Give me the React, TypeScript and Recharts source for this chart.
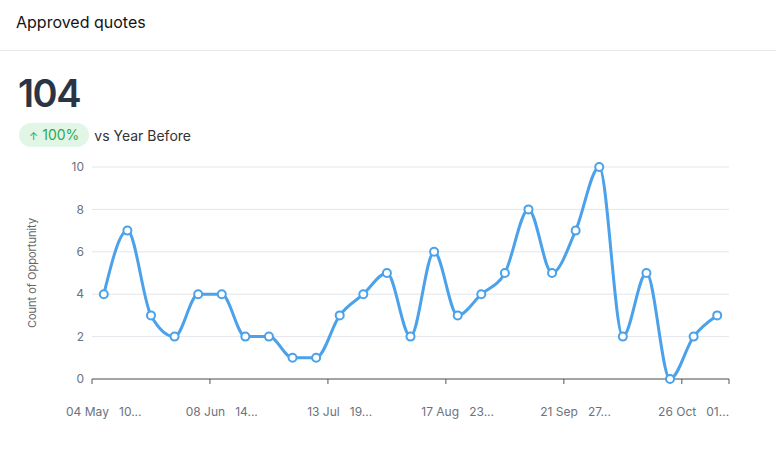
import { LineChart, Line, XAxis, YAxis, CartesianGrid } from 'recharts';

const weekStarts = [
  '04 May', '11 May', '18 May', '25 May', '01 Jun', '08 Jun', '15 Jun', '22 Jun', '29 Jun',
  '06 Jul', '13 Jul', '20 Jul', '27 Jul', '03 Aug', '10 Aug', '17 Aug', '24 Aug', '31 Aug',
  '07 Sep', '14 Sep', '21 Sep', '28 Sep', '05 Oct', '12 Oct', '19 Oct', '26 Oct', '02 Nov',
];
const weekEnds = [
  '10 May', '17 May', '24 May', '31 May', '07 Jun', '14 Jun', '21 Jun', '28 Jun', '05 Jul',
  '12 Jul', '19 Jul', '26 Jul', '02 Aug', '09 Aug', '16 Aug', '23 Aug', '30 Aug', '06 Sep',
  '13 Sep', '20 Sep', '27 Sep', '04 Oct', '11 Oct', '18 Oct', '25 Oct', '01 Nov', '08 Nov',
];
const opportunities = [4, 7, 3, 2, 4, 4, 2, 2, 1, 1, 3, 4, 5, 2, 6, 3, 4, 5, 8, 5, 7, 10, 2, 5, 0, 2, 3];
const yTicks = [0, 2, 4, 6, 8, 10];

const TOTAL = '104';
const CHANGE = '100%';

const CHART_W = 776;
const CHART_H = 300;
const MARGIN = { top: 17, right: 47, left: 0, bottom: 0 };
const Y_AXIS_W = 92;
const LABEL_EVERY = 5;

const data = weekStarts.map((start, i) => ({
  week: `${start} - ${weekEnds[i]}`,
  value: opportunities[i],
}));

const plotWidth = CHART_W - MARGIN.left - MARGIN.right - Y_AXIS_W;
const band = plotWidth / data.length;

function WeekTick(props: any) {
  const { x, y, payload, index } = props;
  const axisY = y - 8;
  const isLast = index === data.length - 1;
  const showLabel = index % LABEL_EVERY === 0;
  const [start, end] = String(payload.value).split(' - ');
  return (
    <g>
      {showLabel && (
        <line x1={x - band / 2} x2={x - band / 2} y1={axisY} y2={axisY + 5} stroke="#555" />
      )}
      {isLast && (
        <line x1={x + band / 2} x2={x + band / 2} y1={axisY} y2={axisY + 5} stroke="#555" />
      )}
      {showLabel && (
        <text x={x} y={y + 29} textAnchor="middle" fill="#6b7280" fontSize={12}>
          {`${start}\u00a0\u00a0\u00a0${end.slice(0, 2)}...`}
        </text>
      )}
    </g>
  );
}

export default function App() {
  return (
    <div
      style={{
        position: 'relative',
        width: 776,
        height: 449,
        background: '#fff',
        fontFamily: 'Inter, "Noto Sans", sans-serif',
        overflow: 'hidden',
      }}
    >
      <style>{'body { margin: 0; }'}</style>
      <div style={{ position: 'absolute', left: 16, top: 12, fontSize: 16, fontWeight: 400, color: '#141414' }}>
        Approved quotes
      </div>
      <div style={{ position: 'absolute', left: 0, right: 0, top: 50, height: 1, background: '#e8e8e8' }} />
      <div
        style={{
          position: 'absolute',
          left: 18,
          top: 69,
          fontSize: 38,
          fontWeight: 600,
          letterSpacing: -1.5,
          color: '#2b3445',
          lineHeight: '48px',
        }}
      >
        {TOTAL}
      </div>
      <div style={{ position: 'absolute', left: 19, top: 123, display: 'flex', alignItems: 'center' }}>
        <span
          style={{
            display: 'inline-block',
            height: 24,
            lineHeight: '24px',
            padding: '0 10px',
            borderRadius: 12,
            background: '#e2f6e7',
            color: '#2ea84f',
            fontSize: 14,
          }}
        >
          <span style={{ fontSize: 11, marginRight: 4 }}>{'\u2191'}</span>
          {CHANGE}
        </span>
        <span style={{ marginLeft: 5, fontSize: 14, color: '#333' }}>vs Year Before</span>
      </div>
      <div style={{ position: 'absolute', left: 0, top: 150 }}>
        <LineChart width={CHART_W} height={CHART_H} data={data} margin={MARGIN}>
          <CartesianGrid vertical={false} stroke="#e3e6ea" />
          <XAxis
            dataKey="week"
            scale="band"
            height={CHART_H - MARGIN.top - 212}
            interval={0}
            axisLine={{ stroke: '#555' }}
            tickLine={false}
            tickSize={6}
            tickMargin={2}
            tick={(p: any) => <WeekTick {...p} />}
          />
          <YAxis
            width={Y_AXIS_W}
            domain={[0, 10]}
            ticks={yTicks}
            axisLine={false}
            tickLine={false}
            tick={{ fill: '#6b7280', fontSize: 12 }}
            label={{
              value: 'Count of Opportunity',
              angle: -90,
              position: 'center',
              dx: -14,
              fill: '#666',
              fontSize: 11,
            }}
          />
          <Line
            type="monotone"
            dataKey="value"
            stroke="#4ba2ea"
            strokeWidth={3}
            dot={{ r: 4, fill: '#fff', stroke: '#4ba2ea', strokeWidth: 2 }}
            isAnimationActive={false}
          />
        </LineChart>
      </div>
    </div>
  );
}
